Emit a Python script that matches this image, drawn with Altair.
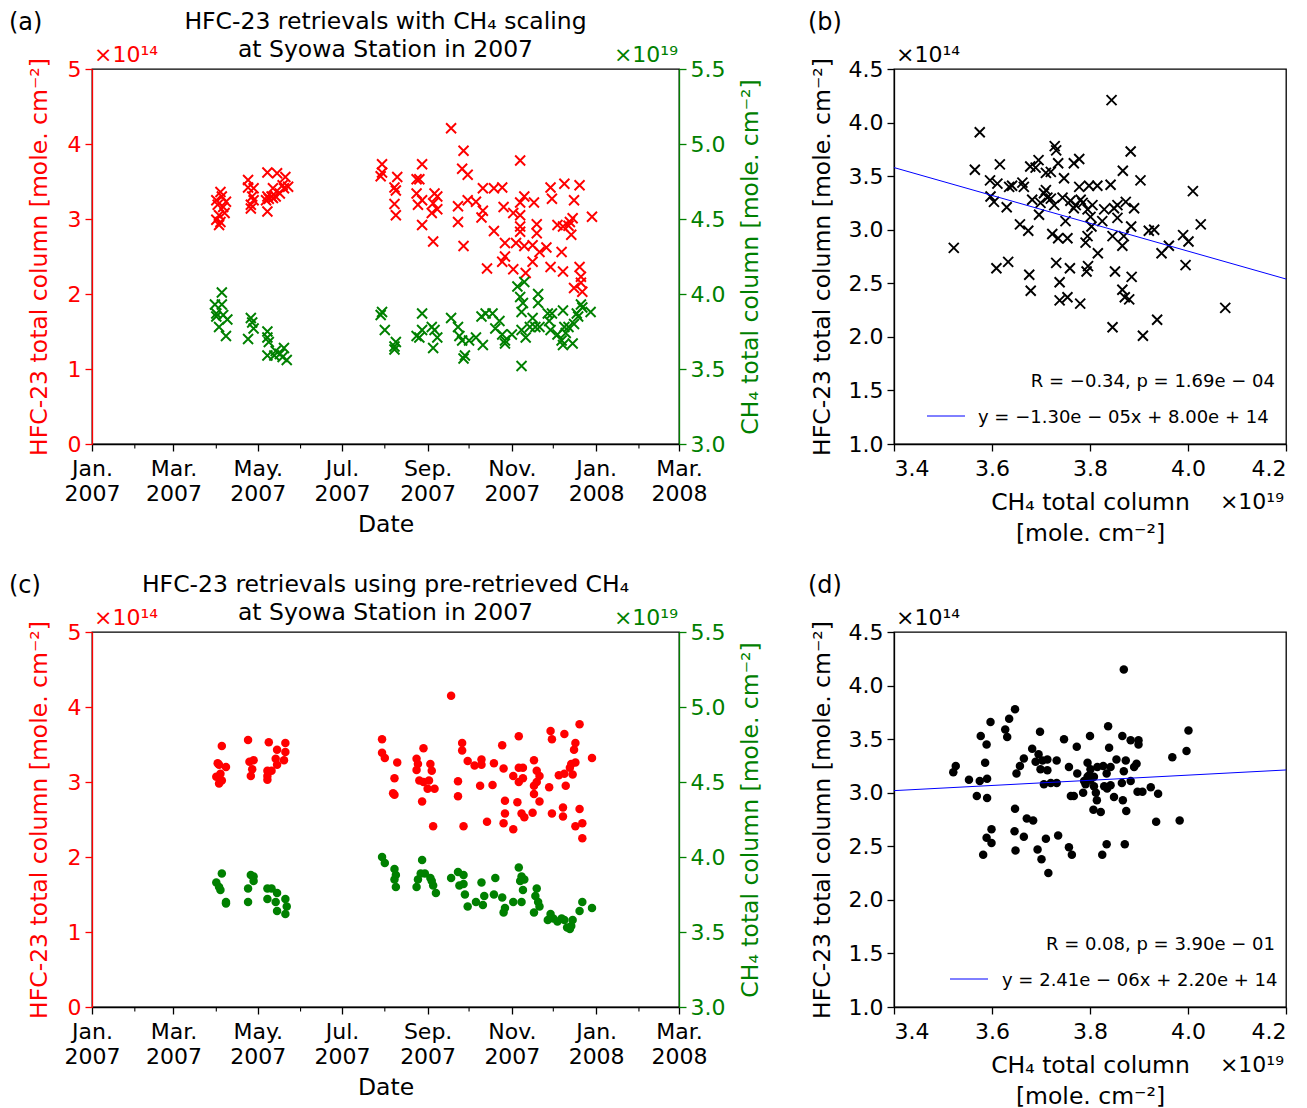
import altair as alt
import pandas as pd

FONT = "DejaVu Sans"
RED = "#ff0000"
GREEN = "#008000"
LAB = 22      # tick labels
TIT = 23.5    # axis titles / panel titles

# ---------------- data ----------------
# (a) HFC-23 with CH4 scaling: days since 2007-01-01, value in 1e14
a_hfc_day = [93, 90, 97, 91, 95, 96, 92, 90, 92, 94, 93,
             113, 117, 113, 117, 115, 115, 116,
             127, 134, 140, 138, 131, 139, 127, 130, 126, 133, 127, 142, 136, 128, 131,
             260, 269, 268, 272, 210, 209, 210, 221, 219, 220, 219, 220, 239, 235, 237, 235,
             239, 236, 239, 248, 250, 247, 250, 246, 247, 265, 265, 269, 272, 278, 283, 282,
             283, 291, 297, 291, 298, 299, 299, 297, 286, 305, 310, 313, 310, 305, 310, 310,
             310, 307, 313, 320, 322, 322, 319, 329, 319, 314, 324, 332, 333, 332, 337, 342,
             341, 340, 341, 349, 348, 347, 353, 362, 353, 354, 349, 355, 346, 345, 354]
a_hfc_val = [3.36, 3.25, 3.23, 3.19, 3.16, 3.08, 3.05, 2.99, 2.92, 3.30, 2.96,
             3.52, 3.41, 3.42, 3.25, 3.19, 3.14, 3.30,
             3.62, 3.61, 3.56, 3.45, 3.41, 3.41, 3.30, 3.30, 3.25, 3.30, 3.10, 3.43, 3.34, 3.27, 3.28,
             4.21, 3.91, 3.67, 3.59, 3.73, 3.57, 3.62, 3.56, 3.42, 3.38, 3.20, 3.05, 3.73, 3.53, 3.53, 3.34,
             3.25, 3.19, 2.92, 3.34, 3.30, 3.21, 3.13, 3.08, 2.70, 3.17, 2.96, 2.64, 3.25, 3.23, 3.11, 3.02,
             3.41, 3.41, 3.42, 2.84, 3.16, 2.68, 2.50, 2.43, 2.34, 2.33, 3.78, 3.30, 3.22, 3.08, 3.05, 2.90,
             2.83, 2.68, 2.64, 3.22, 2.93, 2.81, 2.65, 2.62, 2.43, 2.28, 2.56, 3.42, 3.27, 2.36, 2.92, 3.47,
             2.90, 2.56, 2.30, 3.25, 3.01, 2.79, 3.45, 3.03, 2.36, 2.23, 2.08, 2.03, 2.96, 2.91, 2.15]

# (a) CH4: days since 2007-01-01, value in 1e19
a_ch4_day = [94, 89, 94, 90, 95, 98, 92, 97, 90,
             115, 116, 117, 113,
             127, 127, 128, 127, 132, 136, 139, 141, 138, 133,
             210, 209, 212, 219, 220, 219, 239, 235, 237, 239, 246, 248, 247, 250, 260, 265,
             266, 268, 273, 270, 269, 278, 282, 285, 290, 283, 295, 292, 297, 299, 299, 308,
             313, 310, 312, 323, 323, 311, 304, 311, 314, 319, 317, 321, 324, 311, 330, 333,
             331, 332, 337, 341, 342, 343, 340, 345, 349, 354, 355, 351, 361, 348, 341, 352]
a_ch4_val = [4.01, 3.93, 3.93, 3.87, 3.86, 3.83, 3.78, 3.72, 3.85,
             3.84, 3.81, 3.77, 3.70,
             3.75, 3.71, 3.68, 3.59, 3.59, 3.60, 3.64, 3.56, 3.58, 3.62,
             3.88, 3.86, 3.76, 3.65, 3.68, 3.63, 3.87, 3.72, 3.71, 3.76, 3.78, 3.76, 3.64, 3.71, 3.84, 3.78,
             3.72, 3.69, 3.69, 3.59, 3.57, 3.71, 3.85, 3.87, 3.87, 3.66, 3.82, 3.77, 3.73, 3.69, 3.67, 4.05,
             4.08, 3.98, 3.94, 4.00, 3.94, 3.88, 3.73, 3.76, 3.71, 3.84, 3.78, 3.78, 3.78, 3.52, 3.87, 3.87,
             3.82, 3.76, 3.73, 3.89, 3.78, 3.74, 3.69, 3.78, 3.80, 3.93, 3.91, 3.87, 3.88, 3.67, 3.66, 3.85]

# (b) correlation, CH4 (1e19) vs HFC-23 (1e14)
b_ch4 = [3.844, 3.575, 3.728, 3.731, 3.883, 3.616, 3.565, 3.695, 3.678, 3.689, 3.710, 3.720,
         3.735, 3.767, 3.778, 3.867, 3.747, 3.903, 3.596, 3.611, 3.635, 3.641, 3.662, 3.665,
         3.842, 3.778, 3.798, 3.815, 4.010, 3.597, 3.604, 3.630, 3.682, 3.706, 3.713, 3.699,
         3.727, 3.744, 3.771, 3.781, 3.805, 3.767, 3.795, 3.829, 3.849, 3.873, 3.890, 3.856,
         3.696, 3.750, 3.801, 3.825, 3.856, 3.657, 3.674, 3.803, 3.884, 3.920, 3.931, 4.026,
         3.723, 3.735, 3.754, 3.795, 3.791, 3.846, 3.869, 3.866, 3.990, 4.001, 3.961, 3.946,
         3.816, 3.522, 3.609, 3.633, 3.731, 3.759, 3.796, 3.793, 3.851, 3.995, 3.885, 3.676,
         3.679, 3.738, 3.866, 3.738, 3.754, 3.780, 3.871, 3.880, 4.076, 3.937, 3.846, 3.908,
         3.710, 3.785, 3.760, 3.720]
b_hfc = [4.21, 3.91, 3.78, 3.74, 3.73, 3.61, 3.56, 3.65, 3.59, 3.58, 3.53, 3.54,
         3.62, 3.62, 3.66, 3.55, 3.48, 3.46, 3.46, 3.43, 3.40, 3.41, 3.44, 3.40,
         3.42, 3.40, 3.41, 3.41, 3.36, 3.31, 3.26, 3.21, 3.28, 3.34, 3.30, 3.25,
         3.23, 3.30, 3.23, 3.28, 3.23, 3.20, 3.19, 3.19, 3.20, 3.26, 3.20, 3.23,
         3.14, 3.08, 3.12, 3.08, 3.11, 3.05, 2.99, 3.03, 3.03, 2.99, 3.00, 3.05,
         2.96, 2.92, 2.92, 2.94, 2.88, 2.94, 2.94, 2.85, 2.95, 2.89, 2.85, 2.78,
         2.78, 2.83, 2.64, 2.70, 2.69, 2.64, 2.66, 2.61, 2.61, 2.67, 2.56, 2.58,
         2.43, 2.51, 2.44, 2.34, 2.37, 2.31, 2.37, 2.35, 2.27, 2.16, 2.09, 2.01,
         3.37, 3.25, 3.27, 3.29]
b_slope, b_intercept = -1.30e-05, 8.00e14
b_stats = "R = −0.34, p = 1.69e − 04"
b_eq = "y = −1.30e − 05x + 8.00e + 14"

# (c) HFC-23 using pre-retrieved CH4
c_hfc_day = [94, 91, 97, 90, 93, 92, 94, 92,
             113, 114, 117, 116, 115,
             128, 140, 134, 140, 133, 139, 134, 127, 130, 127, 127,
             210, 210, 212, 221, 219, 219, 218, 240, 235, 236, 235, 237, 240, 239, 245, 246,
             244, 243, 248, 247, 260, 268, 268, 272, 265, 265, 269, 277, 282, 282, 281, 291,
             290, 286, 297, 298, 299, 299, 298, 305, 309, 309, 312, 305, 312, 309, 308, 311,
             313, 320, 322, 324, 322, 320, 320, 324, 319, 332, 333, 342, 353, 350, 349, 347,
             350, 346, 348, 338, 342, 331, 343, 333, 341, 341, 353, 350, 355, 355, 362]
c_hfc_val = [3.48, 3.25, 3.20, 3.07, 3.11, 2.98, 3.02, 3.23,
             3.56, 3.27, 3.29, 3.17, 3.08,
             3.53, 3.52, 3.43, 3.40, 3.31, 3.29, 3.23, 3.15, 3.15, 3.03, 3.08,
             3.57, 3.39, 3.32, 3.26, 3.05, 2.83, 2.85, 3.45, 3.31, 3.24, 3.16, 3.02, 3.00, 2.74, 3.24, 3.15,
             3.02, 2.91, 2.91, 2.41, 4.15, 3.52, 3.42, 3.28, 3.01, 2.81, 2.41, 3.22, 3.30, 3.23, 2.95, 3.25,
             2.96, 2.47, 3.49, 3.18, 2.75, 2.58, 2.45, 2.37, 3.61, 3.19, 3.19, 3.08, 3.05, 3.00, 2.73, 2.58,
             2.53, 3.29, 3.15, 3.08, 3.00, 2.95, 2.84, 2.74, 2.59, 3.68, 3.57, 3.64, 3.77, 3.52, 3.43, 3.24,
             3.26, 3.19, 3.10, 3.09, 3.11, 2.93, 2.95, 2.58, 2.66, 2.54, 2.64, 2.41, 2.45, 2.25, 3.32]

c_ch4_day = [94, 90, 92, 93, 97, 97,
             115, 117, 117, 113, 113,
             127, 130, 127, 134, 133, 140, 141, 134, 140,
             210, 212, 219, 220, 219, 220, 239, 238, 236, 235, 241, 245, 247, 249, 246, 260,
             265, 269, 266, 269, 270, 272, 278, 283, 282, 284, 291, 292, 297, 299, 298, 305,
             309, 311, 310, 313, 312, 311, 322, 321, 323, 324, 320, 332, 330, 334, 337, 342,
             340, 347, 348, 353, 355, 362, 346, 344]
c_ch4_val = [3.89, 3.83, 3.80, 3.78, 3.70, 3.69,
             3.88, 3.87, 3.84, 3.79, 3.70,
             3.79, 3.79, 3.72, 3.76, 3.70, 3.72, 3.67, 3.64, 3.62,
             4.00, 3.96, 3.92, 3.88, 3.85, 3.80, 3.98, 3.89, 3.85, 3.80, 3.89, 3.86, 3.81, 3.76, 3.84, 3.86,
             3.90, 3.88, 3.81, 3.82, 3.75, 3.67, 3.70, 3.68, 3.83, 3.74, 3.75, 3.86, 3.73, 3.66, 3.63, 3.70,
             3.93, 3.87, 3.84, 3.85, 3.78, 3.70, 3.79, 3.74, 3.70, 3.67, 3.63, 3.62, 3.58, 3.59, 3.57, 3.58,
             3.59, 3.54, 3.58, 3.64, 3.70, 3.66, 3.52, 3.53]

# (d) correlation
d_ch4 = [3.869, 3.647, 3.635, 3.597, 3.627, 3.631, 3.577, 3.589, 3.698, 3.747, 3.773, 3.800,
         3.837, 3.866, 3.883, 3.899, 3.899, 3.839, 4.001, 3.997, 3.968, 3.682, 3.665, 3.695,
         3.689, 3.703, 3.713, 3.732, 3.657, 3.650, 3.699, 3.713, 3.586, 3.526, 3.521, 3.553,
         3.575, 3.590, 3.569, 3.590, 3.706, 3.720, 3.732, 3.757, 3.774, 3.795, 3.801, 3.815,
         3.827, 3.842, 3.854, 3.873, 3.869, 3.890, 3.895, 3.834, 3.795, 3.788, 3.801, 3.808,
         3.786, 3.812, 3.829, 3.842, 3.865, 3.883, 3.897, 3.907, 3.924, 3.939, 3.835, 3.761,
         3.767, 3.814, 3.849, 3.867, 3.807, 3.822, 3.874, 3.935, 3.983, 3.647, 3.671, 3.684,
         3.599, 3.589, 3.599, 3.582, 3.646, 3.665, 3.648, 3.693, 3.701, 3.710, 3.735, 3.715,
         3.757, 3.763, 3.825, 3.834, 3.871, 3.798, 3.808, 3.791]
d_hfc = [4.15, 3.78, 3.69, 3.66, 3.59, 3.52, 3.53, 3.45, 3.57, 3.50, 3.43, 3.53,
         3.62, 3.53, 3.49, 3.49, 3.45, 3.42, 3.58, 3.39, 3.33, 3.41, 3.32, 3.36,
         3.29, 3.30, 3.31, 3.30, 3.25, 3.18, 3.22, 3.21, 3.28, 3.25, 3.19, 3.12,
         3.11, 3.13, 2.97, 2.95, 3.08, 3.09, 3.09, 3.24, 3.18, 3.28, 3.22, 3.24,
         3.25, 3.24, 3.31, 3.30, 3.20, 3.24, 3.27, 3.18, 3.15, 3.11, 3.12, 3.06,
         3.00, 3.00, 3.06, 3.07, 3.09, 3.11, 3.01, 3.01, 3.05, 2.99, 3.04, 2.97,
         2.97, 2.93, 2.96, 2.93, 2.84, 2.82, 2.83, 2.73, 2.74, 2.85, 2.76, 2.74,
         2.66, 2.58, 2.53, 2.42, 2.64, 2.59, 2.46, 2.47, 2.38, 2.57, 2.60, 2.25,
         2.49, 2.42, 2.42, 2.52, 2.52, 3.16, 3.15, 3.08]
d_slope, d_intercept = 2.41e-06, 2.20e14
d_stats = "R = 0.08, p = 3.90e − 01"
d_eq = "y = 2.41e − 06x + 2.20e + 14"

month_ticks = [(2007, 1), (2007, 3), (2007, 5), (2007, 7), (2007, 9), (2007, 11), (2008, 1), (2008, 3)]
minor_ticks = ["2007-02-01", "2007-04-01", "2007-06-01", "2007-08-01", "2007-10-01", "2007-12-01",
               "2008-02-01"]

# ---------------- helpers ----------------
W_TS, H = 587, 375
W_SC = 392
BASE = pd.Timestamp("2007-01-01")
XSHAPE = "M-1,-1L1,1M-1,1L1,-1"
XDOM = alt.Scale(domain=[alt.DateTime(year=2007, month=1, date=1),
                         alt.DateTime(year=2008, month=3, date=1)])
XAXIS = alt.Axis(values=[alt.DateTime(year=y, month=m, date=1) for y, m in month_ticks],
                 labelExpr="[timeFormat(datum.value, '%b') + '.', timeFormat(datum.value, '%Y')]",
                 title="Date", labelLineHeight=25, labelPadding=7, titlePadding=8,
                 labelAngle=0, labelAlign="center")


def to_dates(days):
    return [(BASE + pd.Timedelta(days=int(d))).strftime("%Y-%m-%d") for d in days]


def txt(text, x, y, color="black", size=TIT, align="left", baseline="alphabetic"):
    return alt.Chart(pd.DataFrame({"k": [0]})).mark_text(
        text=text, align=align, baseline=baseline, fontSize=size, color=color, font=FONT
    ).encode(x=alt.value(x), y=alt.value(y))


def timeseries(hfc_day, hfc_val, ch4_day, ch4_val, letter, title1, marker):
    dh = pd.DataFrame({"date": to_dates(hfc_day), "v": hfc_val})
    dc = pd.DataFrame({"date": to_dates(ch4_day), "v": ch4_val})
    xs = alt.X("date:T", scale=XDOM, axis=XAXIS)
    if marker == "x":
        mk = dict(shape=XSHAPE, filled=False, size=100, strokeWidth=1.9, opacity=1)
    else:
        mk = dict(shape="circle", filled=True, size=72, opacity=1)
    red = alt.Chart(dh).mark_point(color=RED, **mk).encode(
        x=xs,
        y=alt.Y("v:Q", scale=alt.Scale(domain=[0, 5], nice=False),
                axis=alt.Axis(orient="left", values=[0, 1, 2, 3, 4, 5], format="d",
                              title="HFC-23 total column [mole. cm⁻²]", titleColor=RED,
                              labelColor=RED, tickColor=RED, domainColor=RED, titlePadding=16)))
    green = alt.Chart(dc).mark_point(color=GREEN, **mk).encode(
        x=xs,
        y=alt.Y("v:Q", scale=alt.Scale(domain=[3.0, 5.5], nice=False),
                axis=alt.Axis(orient="right", values=[3.0, 3.5, 4.0, 4.5, 5.0, 5.5], format=".1f",
                              title="CH₄ total column [mole. cm⁻²]", titleColor=GREEN,
                              titleAngle=270, titleBaseline="top",
                              labelColor=GREEN, tickColor=GREEN, domainColor=GREEN, titlePadding=14)))
    minor = alt.Chart(pd.DataFrame({"date": minor_ticks})).mark_rule(
        color="black", strokeWidth=1.1).encode(
        x=xs, y=alt.value(H), y2=alt.value(H + 4.5))
    layers = [red, green, minor,
              txt(letter, -83, -39, size=24),
              txt(title1, W_TS / 2, -40, align="center"),
              txt("at Syowa Station in 2007", W_TS / 2, -12, align="center"),
              txt("×10¹⁴", 2, -7, color=RED, size=LAB),
              txt("×10¹⁹", W_TS - 1, -7, color=GREEN, align="right", size=LAB)]
    return alt.layer(*layers).resolve_scale(y="independent").properties(width=W_TS, height=H)


def scatter(ch4, hfc, slope, intercept, stats, eq, letter, marker):
    d = pd.DataFrame({"x": ch4, "y": hfc})
    xs0 = [3.4, 4.2]
    line = pd.DataFrame({"x": xs0, "y": [(slope * x * 1e19 + intercept) / 1e14 for x in xs0]})
    xenc = alt.X("x:Q", scale=alt.Scale(domain=[3.4, 4.2], nice=False, zero=False),
                 axis=alt.Axis(values=[3.4, 3.6, 3.8, 4.0, 4.2], format=".1f", labelPadding=7,
                               title=["CH₄ total column", "[mole. cm⁻²]"], titlePadding=11,
                               titleLineHeight=31))
    yenc = alt.Y("y:Q", scale=alt.Scale(domain=[1.0, 4.5], nice=False, zero=False),
                 axis=alt.Axis(values=[1.0, 1.5, 2.0, 2.5, 3.0, 3.5, 4.0, 4.5], format=".1f",
                               title="HFC-23 total column [mole. cm⁻²]", titlePadding=14))
    if marker == "x":
        pts = alt.Chart(d).mark_point(shape=XSHAPE, filled=False, size=100, strokeWidth=1.9,
                                      color="black", opacity=1)
    else:
        pts = alt.Chart(d).mark_point(shape="circle", filled=True, size=72, color="black", opacity=1)
    pts = pts.encode(x=xenc, y=yenc)
    reg = alt.Chart(line).mark_line(color="blue", strokeWidth=1).encode(x="x:Q", y="y:Q")
    if marker == "x":
        lx0, lx1, tx = 33, 71, 84
    else:
        lx0, lx1, tx = 56, 94, 108
    legend_line = alt.Chart(pd.DataFrame({"k": [0]})).mark_rule(color="blue", strokeWidth=1).encode(
        x=alt.value(lx0), x2=alt.value(lx1), y=alt.value(347))
    layers = [pts, reg, legend_line,
              txt(stats, 381, 318, size=18, align="right"),
              txt(eq, tx, 354, size=18),
              txt(letter, -86, -39, size=24),
              txt("×10¹⁴", 2, -7, size=LAB),
              txt("×10¹⁹", 390, 440, align="right", size=LAB)]
    return alt.layer(*layers).properties(width=W_SC, height=H)


pa = timeseries(a_hfc_day, a_hfc_val, a_ch4_day, a_ch4_val, "(a)",
                "HFC-23 retrievals with CH₄ scaling", "x")
pb = scatter(b_ch4, b_hfc, b_slope, b_intercept, b_stats, b_eq, "(b)", "x")
pc = timeseries(c_hfc_day, c_hfc_val, c_ch4_day, c_ch4_val, "(c)",
                "HFC-23 retrievals using pre-retrieved CH₄", "o")
pd_ = scatter(d_ch4, d_hfc, d_slope, d_intercept, d_stats, d_eq, "(d)", "o")

chart = alt.vconcat(
    alt.hconcat(pa, pb, spacing=43),
    alt.hconcat(pc, pd_, spacing=43),
    spacing=26,
).configure(font=FONT, padding={"left": 0, "top": 1, "right": 0, "bottom": 0}).configure_view(
    stroke="black", strokeWidth=1.3
).configure_axis(
    grid=False, labelFont=FONT, titleFont=FONT, labelFontSize=LAB, titleFontSize=TIT,
    titleFontWeight="normal", labelColor="black", titleColor="black",
    tickSize=7, tickWidth=1.3, domainWidth=1.3, domainColor="black", tickColor="black",
    labelPadding=4
)

chart.save("out.html", embed_options={"renderer": "svg", "actions": False})
